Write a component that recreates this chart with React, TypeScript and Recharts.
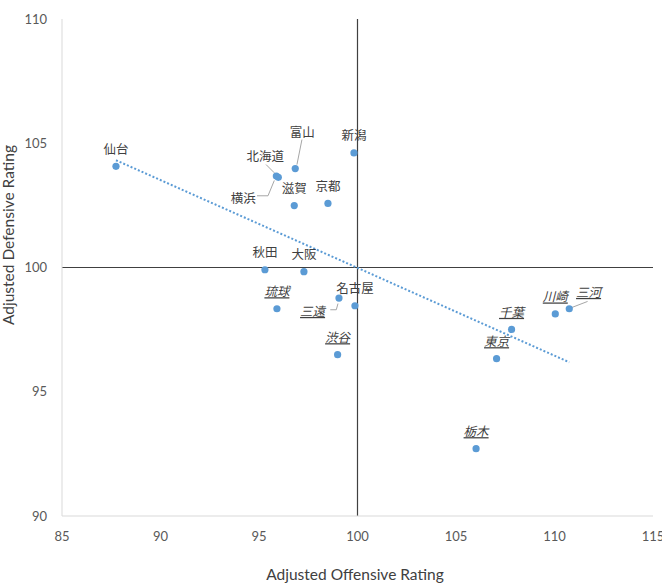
import { ScatterChart, Scatter, XAxis, YAxis, ReferenceLine, Label } from "recharts";

const teams = [
  "仙台", "富山", "新潟", "北海道", "横浜", "滋賀", "京都", "秋田", "大阪",
  "琉球", "三遠", "名古屋", "渋谷", "千葉", "東京", "川崎", "三河", "栃木",
];
const offRating = [
  87.74, 96.84, 99.82, 95.88, 95.98, 96.79, 98.5, 95.3, 97.28,
  95.91, 99.06, 99.87, 98.99, 107.82, 107.06, 110.04, 110.75, 106.02,
];
const defRating = [
  104.07, 103.98, 104.61, 103.68, 103.63, 102.49, 102.58, 99.91, 99.83,
  98.34, 98.77, 98.46, 96.49, 97.51, 96.33, 98.13, 98.34, 92.71,
];
// teams whose labels are set in underlined italics
const underlinedTeams = ["琉球", "三遠", "渋谷", "千葉", "東京", "川崎", "三河", "栃木"];

const xTicks = [85, 90, 95, 100, 105, 110, 115];
const yTicks = [90, 95, 100, 105, 110];

// label placement in px relative to the dot; leader = callout polyline
type Spot = { dx: number; dy: number; leader?: number[][] };
const labelSpots: Record<string, Spot> = {
  富山: { dx: 7, dy: -37, leader: [[6.7, -29], [1.7, -4]] },
  北海道: { dx: -11, dy: -21, leader: [[-10.3, -11.5], [-2, -3.2]] },
  横浜: { dx: -35, dy: 20, leader: [[-21.3, 18.5], [-10.3, 18.5], [-4, 3.2]] },
  三遠: { dx: -26.4, dy: 12.4, leader: [[-8.7, 11.7], [-2.7, 11.7], [-1, 5.5]] },
  三河: { dx: 19.3, dy: -17.3, leader: [[18.3, -7.3], [2.7, -1.3]] },
};
const defaultSpot: Spot = { dx: 0, dy: -18 };

const points = teams.map((name, i) => ({
  name,
  x: offRating[i],
  y: defRating[i],
  marked: underlinedTeams.includes(name),
}));

// least-squares trend over the whole set
function trendSegment() {
  const n = points.length;
  const mx = points.reduce((s, p) => s + p.x, 0) / n;
  const my = points.reduce((s, p) => s + p.y, 0) / n;
  let sxy = 0;
  let sxx = 0;
  points.forEach((p) => {
    sxy += (p.x - mx) * (p.y - my);
    sxx += (p.x - mx) * (p.x - mx);
  });
  const slope = sxy / sxx;
  const x0 = Math.min(...offRating);
  const x1 = Math.max(...offRating);
  return [
    { x: x0, y: my + slope * (x0 - mx) },
    { x: x1, y: my + slope * (x1 - mx) },
  ];
}

const tickStyle = { fontSize: 13, fill: "#595959", fontFamily: "Lato, sans-serif" };
const titleFont = { fontSize: 15.5, fill: "#404040", fontFamily: "Lato, sans-serif" };

function TeamDot(props: any) {
  const { cx, cy, payload } = props;
  const spot = labelSpots[payload.name] ?? defaultSpot;
  return (
    <g>
      {spot.leader && (
        <polyline
          points={spot.leader.map(([a, b]) => `${cx + a},${cy + b}`).join(" ")}
          fill="none"
          stroke="#a6a6a6"
          strokeWidth={1}
        />
      )}
      <circle cx={cx} cy={cy} r={3.6} fill="#5B9BD5" />
      <text
        x={cx + spot.dx}
        y={cy + spot.dy}
        textAnchor="middle"
        dominantBaseline="central"
        fontSize={12.5}
        fill="#404040"
        fontFamily="'Noto Sans CJK JP', sans-serif"
        fontStyle={payload.marked ? "italic" : "normal"}
        textDecoration={payload.marked ? "underline" : "none"}
      >
        {payload.name}
      </text>
    </g>
  );
}

export default function App() {
  return (
    <div style={{ position: "absolute", left: 0, top: 0, width: 662, height: 587, background: "#fff" }}>
      <ScatterChart width={662} height={587} margin={{ top: 19, right: 9, bottom: 0, left: 0 }}>
        <XAxis
          type="number"
          dataKey="x"
          domain={[85, 115]}
          ticks={xTicks}
          interval={0}
          allowDataOverflow
          axisLine={{ stroke: "#d9d9d9" }}
          tickLine={false}
          tickSize={0}
          tickMargin={16}
          tick={tickStyle}
          height={71}
        >
          <Label
            content={() => (
              <text x={355} y={574} textAnchor="middle" dominantBaseline="central" {...titleFont}>
                Adjusted Offensive Rating
              </text>
            )}
          />
        </XAxis>
        <YAxis
          type="number"
          dataKey="y"
          domain={[90, 110]}
          ticks={yTicks}
          interval={0}
          allowDataOverflow
          axisLine={{ stroke: "#d9d9d9" }}
          tickLine={false}
          tickSize={0}
          tickMargin={15}
          tick={tickStyle}
          width={62}
        >
          <Label
            content={() => (
              <text
                transform="translate(8,235) rotate(-90)"
                textAnchor="middle"
                dominantBaseline="central"
                {...titleFont}
              >
                Adjusted Defensive Rating
              </text>
            )}
          />
        </YAxis>
        <ReferenceLine x={100} stroke="#404040" strokeWidth={1.2} />
        <ReferenceLine y={100} stroke="#404040" strokeWidth={1.2} />
        <ReferenceLine
          segment={trendSegment()}
          stroke="#5B9BD5"
          strokeWidth={2}
          strokeDasharray="2 2"
        />
        <Scatter data={points} shape={TeamDot} isAnimationActive={false} />
      </ScatterChart>
    </div>
  );
}
